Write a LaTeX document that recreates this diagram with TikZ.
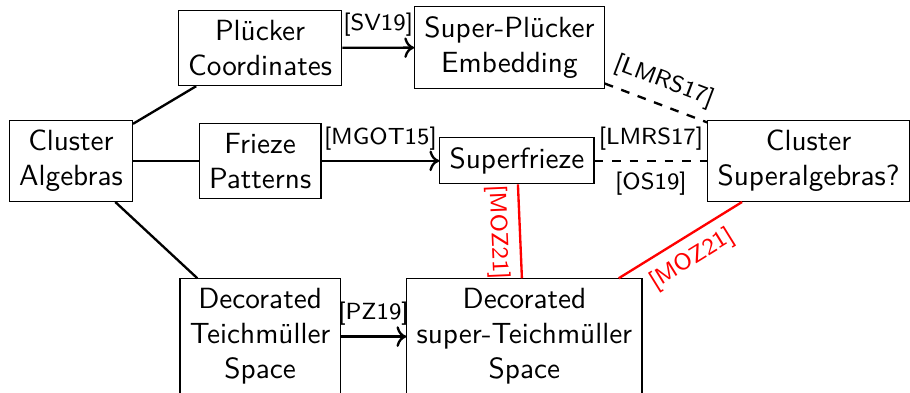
\documentclass[tikz,border=0pt]{standalone}
\usepackage{tikz}
\usetikzlibrary{arrows.meta,positioning}
\renewcommand{\familydefault}{\sfdefault}
\begin{document}
\begin{tikzpicture}[
  topic/.style={draw, align=center},
  ref/.style={font=\footnotesize},
  link/.style={thick},
  superlink/.style={thick, red}
]
  \useasboundingbox (0,0) rectangle (10.95,-4.72);

  % classical side
  \node[topic] (ca)  at (0.854,-1.935) {Cluster\\Algebras};
  \node[topic] (pl)  at (3.13,-0.578)  {Pl\"ucker\\Coordinates};
  \node[topic] (fr)  at (3.13,-1.935)  {Frieze\\Patterns};
  \node[topic] (dt)  at (3.13,-4.05)   {Decorated\\Teichm\"uller\\Space};

  % super side
  \node[topic] (spl) at (6.13,-0.57)   {Super-Pl\"ucker\\Embedding};
  \node[topic] (sfr) at (6.22,-1.935)  {Superfrieze};
  \node[topic] (dst) at (6.31,-4.05)   {Decorated\\super-Teichm\"uller\\Space};
  \node[topic] (csa) at (9.73,-1.935)  {Cluster\\Superalgebras?};

  \draw[link] (ca) -- (pl);
  \draw[link] (ca) -- (fr);
  \draw[link] (ca) -- (dt);

  \draw[link,->] (pl) -- node[ref,above] {[SV19]} (spl);
  \draw[link,->] (fr) -- node[ref,above] {[MGOT15]} (sfr);
  \draw[link,->] (dt) -- node[ref,above] {[PZ19]} (dst);

  \draw[link,dashed] (spl) -- node[ref,above,sloped] {[LMRS17]} (csa);
  \draw[link,dashed] (sfr) -- node[ref,above] {[LMRS17]}
                              node[ref,below] {[OS19]} (csa);

  \draw[superlink] (sfr) -- node[ref,below,sloped] {[MOZ21]} (dst);
  \draw[superlink] (dst) -- node[ref,below,sloped] {[MOZ21]} (csa);
\end{tikzpicture}
\end{document}
